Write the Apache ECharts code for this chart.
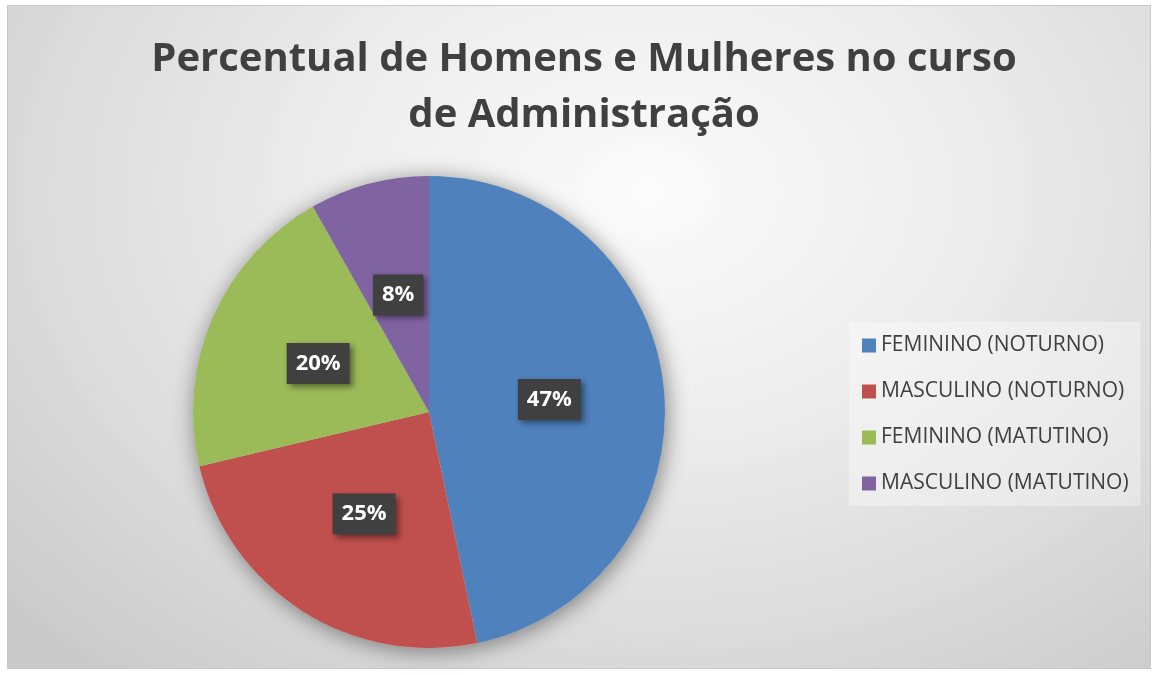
<!DOCTYPE html>
<html>
<head>
<meta charset="utf-8">
<script src="https://cdn.jsdelivr.net/npm/echarts@6/dist/echarts.min.js"></script>
<style>
  html, body { margin: 0; padding: 0; background: #fff; }
  #fundo {
    position: absolute; left: 7px; top: 5px; width: 1142px; height: 662px;
    border: 1px solid #c8c8c8;
    background: radial-gradient(ellipse 75% 95% at 56% 28%, #fbfbfb 0%, #eeeeee 35%, #dcdcdc 70%, #cacaca 100%);
  }
  #grafico { position: absolute; left: 0; top: 0; width: 1156px; height: 674px; }
</style>
</head>
<body>
<div id="fundo"></div>
<div id="grafico"></div>
<script>
// dados
var categorias = ['FEMININO (NOTURNO)', 'MASCULINO (NOTURNO)', 'FEMININO (MATUTINO)', 'MASCULINO (MATUTINO)'];
var valores = [57, 30, 25, 10];
var cores = ['#4f81bd', '#c0504d', '#9bbb59', '#8064a2'];

var myChart = echarts.init(document.getElementById('grafico'));

var dataList = [];
categorias.forEach(function(item, index){
  dataList.push({ name: item, value: valores[index], itemStyle: { color: cores[index] } });
});

var option = {
  animation: false,
  title: {
    text: 'Percentual de Homens e Mulheres no curso\nde Administração',
    left: 579,
    textAlign: 'center',
    top: 27,
    textStyle: {
      fontFamily: 'Open Sans',
      fontWeight: 'bold',
      fontSize: 40,
      lineHeight: 56,
      color: '#404040'
    }
  },
  legend: {
    orient: 'vertical',
    left: 849,
    top: 322,
    data: categorias,
    icon: 'rect',
    itemWidth: 14,
    itemHeight: 14,
    itemGap: 25,
    itemTextGap: 7,
    padding: [13, 12, 12, 13],
    backgroundColor: 'rgba(255,255,255,0.35)',
    textStyle: {
      fontFamily: 'Open Sans',
      fontSize: 21,
      lineHeight: 20,
      color: '#404040'
    }
  },
  series: [
    {
      // sombra do gráfico
      type: 'pie',
      silent: true,
      center: [429, 412],
      radius: 236,
      label: { show: false },
      labelLine: { show: false },
      itemStyle: {
        color: '#d0d0d0',
        shadowBlur: 22,
        shadowOffsetX: 2,
        shadowOffsetY: 3,
        shadowColor: 'rgba(0,0,0,0.45)'
      },
      data: [{ name: 'sombra', value: 1 }]
    },
    {
      type: 'pie',
      center: [429, 412],
      radius: 236,
      startAngle: 90,
      clockwise: true,
      label: {
        show: true,
        position: 'inside',
        formatter: function(p){ return Math.round(p.percent) + '%'; },
        fontFamily: 'Open Sans',
        fontWeight: 'bold',
        fontSize: 22,
        lineHeight: 22,
        color: '#ffffff',
        backgroundColor: '#404040',
        padding: [10, 9, 9, 9],
        shadowBlur: 6,
        shadowOffsetX: 3,
        shadowOffsetY: 3,
        shadowColor: 'rgba(0,0,0,0.45)'
      },
      labelLine: { show: false },
      data: dataList
    }
  ]
};
myChart.setOption(option, true);
</script>
</body>
</html>
